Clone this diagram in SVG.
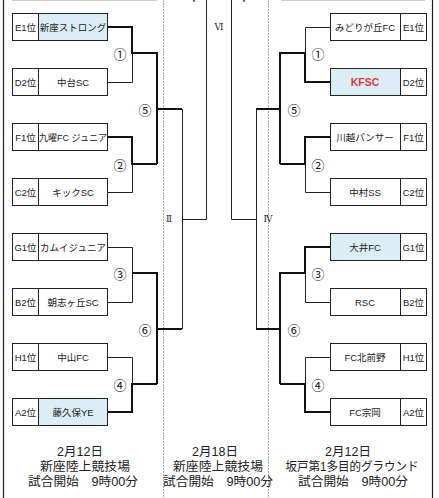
<svg xmlns="http://www.w3.org/2000/svg" width="439" height="498" viewBox="0 0 439 498">
<style>
.bg{fill:#fff}
.box{fill:#fff;stroke:#222;stroke-width:1}
.hl{fill:#dbeef4}
.t{font-family:"Liberation Sans","Noto Sans CJK JP",sans-serif;font-size:9.5px;fill:#222;text-anchor:middle;dominant-baseline:central}
.kf{fill:#e8383d;font-weight:bold;font-size:10.5px}
.thin{fill:none;stroke:#222;stroke-width:1}
.thick{fill:none;stroke:#111;stroke-width:2}
.dot{stroke:#aaa;stroke-width:1;stroke-dasharray:2 1}
.rn{font-family:"DejaVu Serif","Noto Sans CJK JP",serif;font-size:9px;fill:#222;text-anchor:middle;dominant-baseline:central}
.cn{font-family:"Noto Sans CJK JP",sans-serif;font-size:13px;fill:#111;text-anchor:middle;dominant-baseline:central}
.bt{font-family:"Liberation Sans","Noto Sans CJK JP",sans-serif;font-size:12.5px;fill:#222;text-anchor:middle;dominant-baseline:central}
</style>
<rect class="bg" width="439" height="498"/>
<g id="frame">
<line x1="3.5" y1="0" x2="3.5" y2="498" stroke="#222" stroke-width="1.2"/>
<line x1="432.5" y1="0" x2="432.5" y2="498" stroke="#222" stroke-width="1.2"/>
<line x1="12" y1="0.5" x2="157" y2="0.5" stroke="#ccc"/>
<line x1="281" y1="0.5" x2="425" y2="0.5" stroke="#ccc"/>
<line class="dot" x1="163.5" y1="0" x2="163.5" y2="498"/>
<line class="dot" x1="268.5" y1="0" x2="268.5" y2="498"/>
<text class="rn" x="194" y="-1">Ⅴ</text>
<text class="rn" x="244" y="-1">Ⅴ</text>
</g>
<g id="connectors">
<path class="thin" d="M107,82.5H132.5V53 M107,192.5H132.5V164 M107,247.5H132.5V273 M107,302.5H132.5V273 M107,357.5H132.5V384 M182.5,109V329 M182,219.5H206.5V0"/>
<path class="thick" d="M107,27H132V53H157V164 M157,109H182 M107,137H132V164H157 M132,273H157V384 M157,329H182 M107,412H132V384H157"/>
<path class="thin" d="M330,27.5H305.5V53 M330,192.5H305.5V164 M330,302.5H305.5V273 M330,357.5H305.5V384 M256.5,109V329 M257,219.5H231.5V0"/>
<path class="thick" d="M330,82H305V53H280V164 M280,109H256 M330,137H305V164H280 M330,247H305V273H280V384 M280,329H256 M330,412H305V384H280"/>
</g>
<g id="labels">
<text class="rn" x="219" y="27">Ⅵ</text>
<text class="rn" x="169" y="219">Ⅱ</text>
<text class="rn" x="268" y="219">Ⅳ</text>
<text class="cn" x="120" y="53">①</text>
<text class="cn" x="120" y="164">②</text>
<text class="cn" x="120" y="273">③</text>
<text class="cn" x="120" y="384">④</text>
<text class="cn" x="145" y="109">⑤</text>
<text class="cn" x="145" y="329">⑥</text>
<text class="cn" x="318" y="53">①</text>
<text class="cn" x="318" y="164">②</text>
<text class="cn" x="318" y="273">③</text>
<text class="cn" x="318" y="384">④</text>
<text class="cn" x="294" y="109">⑤</text>
<text class="cn" x="294" y="329">⑥</text>
</g>
<g id="L1"><rect class="box" x="12.5" y="13.5" width="26" height="27"/><rect class="box hl" x="38.5" y="13.5" width="69" height="27"/><text class="t" x="25.5" y="27">E1位</text><text class="t" x="73" y="27">新座ストロング</text></g>
<g id="L2"><rect class="box" x="12.5" y="68.5" width="26" height="27"/><rect class="box" x="38.5" y="68.5" width="69" height="27"/><text class="t" x="25.5" y="82">D2位</text><text class="t" x="73" y="82">中台SC</text></g>
<g id="L3"><rect class="box" x="12.5" y="123.5" width="26" height="27"/><rect class="box" x="38.5" y="123.5" width="69" height="27"/><text class="t" x="25.5" y="137">F1位</text><text class="t" x="73" y="137" textLength="68" lengthAdjust="spacingAndGlyphs">九曜FC ジュニア</text></g>
<g id="L4"><rect class="box" x="12.5" y="178.5" width="26" height="27"/><rect class="box" x="38.5" y="178.5" width="69" height="27"/><text class="t" x="25.5" y="192">C2位</text><text class="t" x="73" y="192">キックSC</text></g>
<g id="L5"><rect class="box" x="12.5" y="233.5" width="26" height="27"/><rect class="box" x="38.5" y="233.5" width="69" height="27"/><text class="t" x="25.5" y="247">G1位</text><text class="t" x="73" y="247">カムイジュニア</text></g>
<g id="L6"><rect class="box" x="12.5" y="288.5" width="26" height="27"/><rect class="box" x="38.5" y="288.5" width="69" height="27"/><text class="t" x="25.5" y="302">B2位</text><text class="t" x="73" y="302">朝志ヶ丘SC</text></g>
<g id="L7"><rect class="box" x="12.5" y="343.5" width="26" height="27"/><rect class="box" x="38.5" y="343.5" width="69" height="27"/><text class="t" x="25.5" y="357">H1位</text><text class="t" x="73" y="357">中山FC</text></g>
<g id="L8"><rect class="box" x="12.5" y="398.5" width="26" height="27"/><rect class="box hl" x="38.5" y="398.5" width="69" height="27"/><text class="t" x="25.5" y="412">A2位</text><text class="t" x="73" y="412">藤久保YE</text></g>
<g id="R1"><rect class="box" x="330.5" y="13.5" width="70" height="27"/><rect class="box" x="400.5" y="13.5" width="26" height="27"/><text class="t" x="365" y="27">みどりが丘FC</text><text class="t" x="413.5" y="27">E1位</text></g>
<g id="R2"><rect class="box hl" x="330.5" y="68.5" width="70" height="27"/><rect class="box" x="400.5" y="68.5" width="26" height="27"/><text class="t kf" x="365" y="82">KFSC</text><text class="t" x="413.5" y="82">D2位</text></g>
<g id="R3"><rect class="box" x="330.5" y="123.5" width="70" height="27"/><rect class="box" x="400.5" y="123.5" width="26" height="27"/><text class="t" x="365" y="137">川越パンサー</text><text class="t" x="413.5" y="137">F1位</text></g>
<g id="R4"><rect class="box" x="330.5" y="178.5" width="70" height="27"/><rect class="box" x="400.5" y="178.5" width="26" height="27"/><text class="t" x="365" y="192">中村SS</text><text class="t" x="413.5" y="192">C2位</text></g>
<g id="R5"><rect class="box hl" x="330.5" y="233.5" width="70" height="27"/><rect class="box" x="400.5" y="233.5" width="26" height="27"/><text class="t" x="365" y="247">大井FC</text><text class="t" x="413.5" y="247">G1位</text></g>
<g id="R6"><rect class="box" x="330.5" y="288.5" width="70" height="27"/><rect class="box" x="400.5" y="288.5" width="26" height="27"/><text class="t" x="365" y="302">RSC</text><text class="t" x="413.5" y="302">B2位</text></g>
<g id="R7"><rect class="box" x="330.5" y="343.5" width="70" height="27"/><rect class="box" x="400.5" y="343.5" width="26" height="27"/><text class="t" x="365" y="357">FC北前野</text><text class="t" x="413.5" y="357">H1位</text></g>
<g id="R8"><rect class="box" x="330.5" y="398.5" width="70" height="27"/><rect class="box" x="400.5" y="398.5" width="26" height="27"/><text class="t" x="365" y="412">FC宗岡</text><text class="t" x="413.5" y="412">A2位</text></g>
<g id="venues">
<text class="bt" x="80" y="452">2月12日</text>
<text class="bt" x="85" y="467" textLength="90" lengthAdjust="spacingAndGlyphs">新座陸上競技場</text>
<text class="bt" x="83" y="482" textLength="110" lengthAdjust="spacingAndGlyphs">試合開始　9時00分</text>
<text class="bt" x="215" y="452">2月18日</text>
<text class="bt" x="218" y="467" textLength="90" lengthAdjust="spacingAndGlyphs">新座陸上競技場</text>
<text class="bt" x="218" y="482" textLength="110" lengthAdjust="spacingAndGlyphs">試合開始　9時00分</text>
<text class="bt" x="348" y="452">2月12日</text>
<text class="bt" x="352" y="467" textLength="133" lengthAdjust="spacingAndGlyphs">坂戸第1多目的グラウンド</text>
<text class="bt" x="353" y="482" textLength="110" lengthAdjust="spacingAndGlyphs">試合開始　9時00分</text>
</g>
</svg>
